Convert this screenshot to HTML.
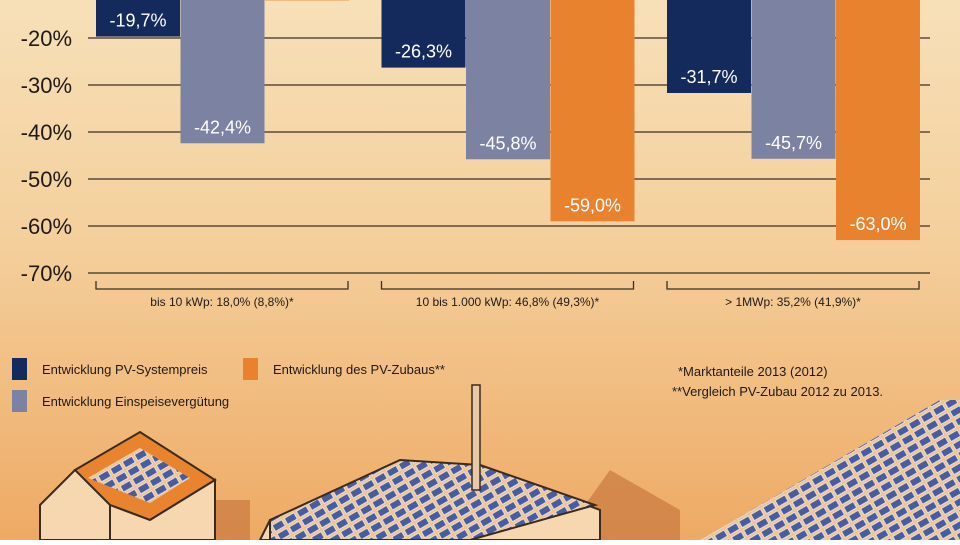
<!DOCTYPE html>
<html><head><meta charset="utf-8"><style>
body{margin:0;width:960px;height:540px;overflow:hidden;font-family:"Liberation Sans",sans-serif}
</style></head><body>
<svg id="c" width="960" height="540" xmlns="http://www.w3.org/2000/svg">
<defs>
<linearGradient id="bg" x1="0" y1="0" x2="0" y2="1">
<stop offset="0" stop-color="#f7e0b8"/><stop offset="0.45" stop-color="#f4cf9c"/><stop offset="1" stop-color="#eeaa64"/>
</linearGradient>
<pattern id="pv" width="14" height="10" patternUnits="userSpaceOnUse" patternTransform="rotate(-30)">
<rect width="14" height="10" fill="#f0c48c"/><rect x="1" y="1" width="11" height="7" fill="#4a5c9c" stroke="#e8eefc" stroke-width="0.8"/>
</pattern>
</defs>
<rect width="960" height="540" fill="url(#bg)"/>
<g id="grid"></g>
<g id="bars"></g>
<g id="illus">
<polygon points="610,470 680,510 680,540 560,540" fill="#c9783e" opacity="0.7"/>
<polygon points="190,500 250,500 250,540 200,540" fill="#c9783e" opacity="0.7"/>
<polygon points="40,505 75,470 110,470 110,540 40,540" fill="#f6d7b0" stroke="#3a2a20" stroke-width="2"/>
<polygon points="75,470 140,432 215,480 150,520 110,505" fill="#e8842e" stroke="#3a2a20" stroke-width="2"/>
<polygon points="88,478 140,448 190,478 150,503" fill="url(#pv)"/>
<polygon points="110,505 150,520 215,480 215,540 110,540" fill="#f6d7b0" stroke="#3a2a20" stroke-width="2"/>
<polygon points="260,540 270,520 480,465 600,510 600,540" fill="#f6d7b0" stroke="#3a2a20" stroke-width="2"/>
<polygon points="270,520 400,460 480,465 595,505 470,540 270,540" fill="url(#pv)" stroke="#3a2a20" stroke-width="2"/>
<rect x="472" y="385" width="8" height="105" fill="#e8c9a5" stroke="#3a2a20" stroke-width="1.5"/>
<polygon points="700,540 940,400 960,400 960,540" fill="url(#pv)"/>
</g>
<g id="panels"></g>
</svg>
<script>
const categories=["bis 10 kWp: 18,0% (8,8%)*","10 bis 1.000 kWp: 46,8% (49,3%)*","> 1MWp: 35,2% (41,9%)*"];
const systempreis=[-19.7,-26.3,-31.7];
const einspeise=[-42.4,-45.8,-45.7];
const zubau=[-12.0,-59.0,-63.0];
const ticks=[-10,-20,-30,-40,-50,-60,-70];
const tickLabels=["-10%","-20%","-30%","-40%","-50%","-60%","-70%"];
const NS="http://www.w3.org/2000/svg";
const y=v=>-56+(-v)*4.7;
const gx=i=>96+i*285.5;
function el(t,a,p,txt){const e=document.createElementNS(NS,t);for(const k in a)e.setAttribute(k,a[k]);if(txt!=null)e.textContent=txt;p.appendChild(e);return e;}
const grid=document.getElementById('grid'),bars=document.getElementById('bars');
ticks.forEach((t,i)=>{
 const l=el('line',{x1:88,x2:930,y1:y(t),y2:y(t),stroke:'#3a2e25','stroke-width':1.3},grid);
 
 
 const tx=el('text',{x:72,y:y(t)+8,'text-anchor':'end','font-size':22,fill:'#1f1a18'},grid,tickLabels[i]);
 
 
});
const series=[[systempreis,'#152a5c'],[einspeise,'#7c82a2'],[zubau,'#e8822e']];
categories.forEach((c,i)=>{
 series.forEach(([arr,col],s)=>{
  const x=gx(i)+s*84.5, v=arr[i];
  const r=el('rect',{x:x,y:-10,width:84,height:y(v)+10,fill:col},bars);
  
  
  if(y(v)>20){
   const t=el('text',{x:x+42,y:y(v)-10,'text-anchor':'middle','font-size':18,fill:'#fff'},bars,(v.toFixed(1)+'%').replace('.',','));
   
   
  }
 });
 const bx=gx(i);
 const b=el('polyline',{points:`${bx},281 ${bx},289 ${bx+252},289 ${bx+252},281`,fill:'none',stroke:'#3a2e25','stroke-width':1.3},bars);
 
 
 const ct=el('text',{x:bx+126,y:306,'text-anchor':'middle','font-size':12,fill:'#1f1a18'},bars,c);
 
 
});
const p=document.getElementById('panels');
[[12,358,'#152a5c','Entwicklung PV-Systempreis',42],[243,358,'#e8822e','Entwicklung des PV-Zubaus**',273],[12,390,'#7c82a2','Entwicklung Einspeisevergütung',42]].forEach(([x,yy,c,t,tx])=>{
 const r=el('rect',{x:x,y:yy,width:15,height:22,fill:c},p);
 
 
 const tt=el('text',{x:tx,y:yy+16,'font-size':13,fill:'#1f1a18'},p,t);
 
 
});
const n1=el('text',{x:678,y:376,'font-size':13,fill:'#1f1a18'},p,'*Marktanteile 2013 (2012)');


const n2=el('text',{x:672,y:396,'font-size':13,fill:'#1f1a18'},p,'**Vergleich PV-Zubau  2012 zu 2013.');


</script>
</body></html>
